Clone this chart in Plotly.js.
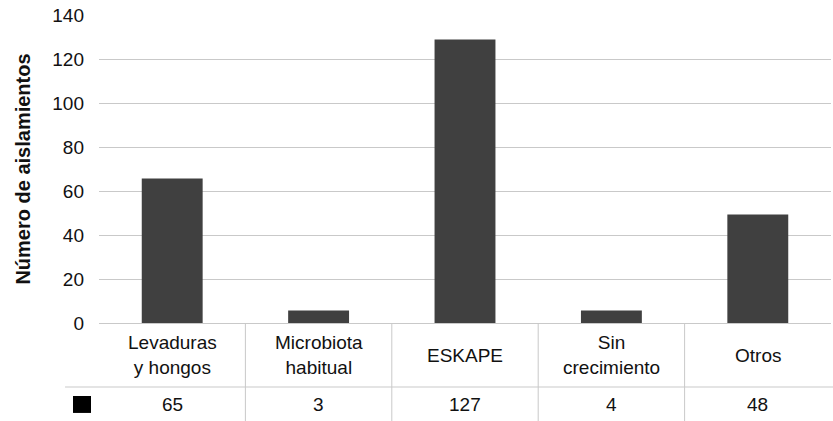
<!DOCTYPE html>
<html>
<head>
<meta charset="utf-8">
<script src="https://cdn.plot.ly/plotly-3.0.1.min.js"></script>
<style>html,body{margin:0;padding:0;background:#fff;}#chart{width:833px;height:421px;}</style>
</head>
<body>
<div id="chart"></div>
<script>
// Category labels (x axis / table header)
const categories = ['Levaduras<br>y hongos', 'Microbiota<br>habitual', 'ESKAPE', 'Sin<br>crecimiento', 'Otros'];
// Values printed in the data table
const tableValues = [65, 3, 127, 4, 48];
// Bar heights
const barHeights = [65.7, 5.7, 128.9, 5.7, 49.3];
// Y axis ticks
const yTicks = [0, 20, 40, 60, 80, 100, 120, 140];

const gridColor = '#c9c9c9';
const idx = categories.map((_, i) => i);

const trace = {
  type: 'bar',
  x: idx,
  y: barHeights,
  marker: {color: '#404040', line: {width: 0}},
  hoverinfo: 'skip'
};

const shapes = [];
// vertical separators of the table
for (let i = 1; i < categories.length; i++) {
  shapes.push({type: 'line', xref: 'paper', yref: 'paper',
    x0: i / categories.length, x1: i / categories.length, y0: 0, y1: -0.32,
    line: {color: gridColor, width: 1}});
}
// horizontal separator between header and value row
shapes.push({type: 'line', xref: 'paper', yref: 'paper',
  x0: -0.0464, x1: 1.01, y0: -0.2078, y1: -0.2078,
  line: {color: gridColor, width: 1}});
// legend key
shapes.push({type: 'rect', xref: 'paper', yref: 'paper',
  x0: -0.0355, x1: -0.0109, y0: -0.292, y1: -0.237,
  fillcolor: '#000', line: {width: 0}});

const annotations = [];
categories.forEach((c, i) => {
  annotations.push({x: i, y: -0.104, xref: 'x', yref: 'paper', text: c,
    showarrow: false, xanchor: 'center', yanchor: 'middle', align: 'center'});
  annotations.push({x: i, y: -0.263, xref: 'x', yref: 'paper', text: String(tableValues[i]),
    showarrow: false, xanchor: 'center', yanchor: 'middle'});
});

const layout = {
  width: 833, height: 421,
  margin: {l: 99, r: 2, t: 15, b: 98},
  paper_bgcolor: '#fff', plot_bgcolor: '#fff',
  font: {family: 'Liberation Sans, Arial, Helvetica, sans-serif', size: 19, color: '#111'},
  showlegend: false,
  bargap: 0.584,
  xaxis: {range: [-0.5, categories.length - 0.5], showticklabels: false, showgrid: false,
    zeroline: false, showline: true, linecolor: gridColor, linewidth: 1, ticks: '', fixedrange: true},
  yaxis: {range: [0, 140], tickvals: yTicks, ticktext: yTicks.map(String),
    showgrid: true, gridcolor: gridColor, gridwidth: 1, zeroline: false, showline: false,
    ticks: '', ticklabelstandoff: 14, automargin: false, fixedrange: true,
    title: {text: '<b>Número de aislamientos</b>', font: {size: 20}, standoff: 16}},
  shapes: shapes,
  annotations: annotations
};

Plotly.newPlot('chart', [trace], layout, {displayModeBar: false, staticPlot: true});
</script>
</body>
</html>
